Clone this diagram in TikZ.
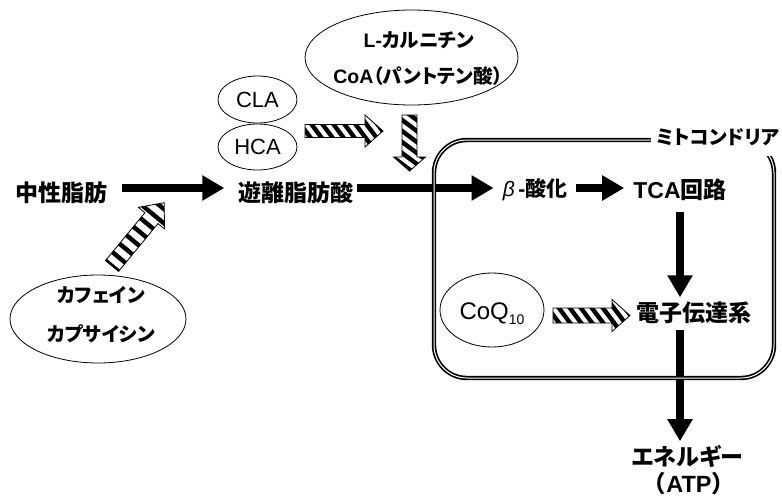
\documentclass[tikz,border=0pt]{standalone}
\usepackage{fontspec}
\setmainfont{Liberation Sans}
\newfontfamily\jp{Noto Sans CJK JP}
\newfontfamily\jpp{Noto Sans CJK JP}[RawFeature=+palt]
\usetikzlibrary{arrows.meta,shapes.geometric}
\newcommand\fs[1]{\fontsize{#1}{#1}\selectfont}
\newcommand\J[1]{{\jp #1}}
\newcommand\JP[1]{{\jpp #1}}
\begin{document}
\begin{tikzpicture}[x=1pt,y=-1pt,
  lbl/.style={inner sep=0pt, font=\bfseries\fs{23}},
  ell/.style={ellipse, draw, line width=0.8pt, inner sep=0pt},
  bigarrow/.style={line width=7.5pt, -{Triangle[length=22pt,width=24pt]}},
  pics/harrow/.style n args={5}{code={
    \begin{scope}
      \clip (0,-#2) -- ({#1-#4},-#2) -- ({#1-#4},-#3) -- (#1,0) -- ({#1-#4},#3) -- ({#1-#4},#2) -- (0,#2) -- cycle;
      \fill[white] (-10,-40) rectangle ({#1+10},40);
      \foreach \s in {-66,-55,...,143} \draw[line width=4.4pt] (\s,-30) -- ({\s+(#5)},30);
    \end{scope}
    \draw[line width=0.8pt, line join=miter] (0,-#2) -- ({#1-#4},-#2) -- ({#1-#4},-#3) -- (#1,0) -- ({#1-#4},#3) -- ({#1-#4},#2) -- (0,#2) -- cycle;
  }},
]
\useasboundingbox (0,0) rectangle (782,496);

% main labels
\node[lbl] (tg) at (61.5,193) {\J{中性脂肪}};
\node[lbl] (ffa) at (296,193) {\J{遊離脂肪酸}};
\node[lbl,font=\bfseries\fs{21}] (beta) at (535,190) {{\mdseries\itshape β}\,-\J{酸化}};
\node[lbl] (tca) at (680,190) {TCA\J{回路}};
\node[lbl] (etc) at (694,312.5) {\J{電子伝達系}};
\node[lbl,font=\bfseries\fs{23}] (atp1) at (687.5,456.5) {\JP{エネルギー}};
\node[lbl,font=\bfseries\fs{23.5}] (atp2) at (689,483.5) {\J{（}ATP\J{）}};

% black arrows
\draw[bigarrow, shorten <=14pt, shorten >=14pt] ([yshift=5pt]tg.east) -- ([yshift=5pt]ffa.west);
\draw[bigarrow, shorten <=3pt, shorten >=9pt] ([yshift=5pt]ffa.east) -- ([yshift=2pt]beta.west);
\draw[bigarrow, shorten <=9pt, shorten >=9pt] ([yshift=2pt]beta.east) -- ([yshift=2pt]tca.west);
\draw[bigarrow, shorten <=10.5pt, shorten >=4pt] (tca.south) -- (tca.south |- etc.north);
\draw[bigarrow, shorten <=6pt, shorten >=4pt] (tca.south |- etc.south) -- (tca.south |- atp1.north);

% mitochondria box
\draw[double, double distance=1pt, line width=1.7pt, rounded corners=33pt] (434,140) rectangle (774,378);
\fill[white] (651,118) rectangle (782,156);
\node[lbl,font=\bfseries\fs{19.5}] (mito) at (718,137) {\JP{ミトコンドリア}};

% CLA / HCA
\node[ell, minimum width=79pt, minimum height=47pt, font=\fs{22}] (cla) at (257.5,99.5) {CLA};
\node[ell, minimum width=79pt, minimum height=46pt, font=\fs{22}] (hca) at (257.5,147) {HCA};
\pic at (305,131) {harrow={78}{6.5}{16}{18}{45}};

% L-carnitine
\node[ell, minimum width=213pt, minimum height=95pt] (lcell) at (411.5,57.5) {};
\node[lbl,font=\bfseries\fs{19.5}] (lc1) at (419,40) {L-\JP{カルニチン}};
\node[lbl,font=\bfseries\fs{19.5}] (lc2) at (418,76) {CoA\JP{（パントテン酸）}};
\pic[rotate=-90] at (409.5,115) {harrow={56}{7.5}{16}{14}{-45}};

% caffeine
\node[ell, minimum width=176pt, minimum height=88pt] (caf) at (98,319) {};
\node[lbl,font=\bfseries\fs{19.5}] (caf1) at (101,295) {\JP{カフェイン}};
\node[lbl,font=\bfseries\fs{19.5}] (caf2) at (101,334) {\JP{カプサイシン}};
\pic[rotate=50.5] at (112,266) {harrow={82}{8.5}{17}{20}{0}};

% CoQ10
\node[ell, minimum width=104pt, minimum height=74pt] (coq) at (492,310) {};
\node[inner sep=0pt, font=\fs{24}] (coqt) at (492,314) {CoQ\raisebox{-5pt}{\fs{14}10}};
\pic at (553,315.5) {harrow={77}{7.5}{16}{18}{45}};
\end{tikzpicture}
\end{document}
